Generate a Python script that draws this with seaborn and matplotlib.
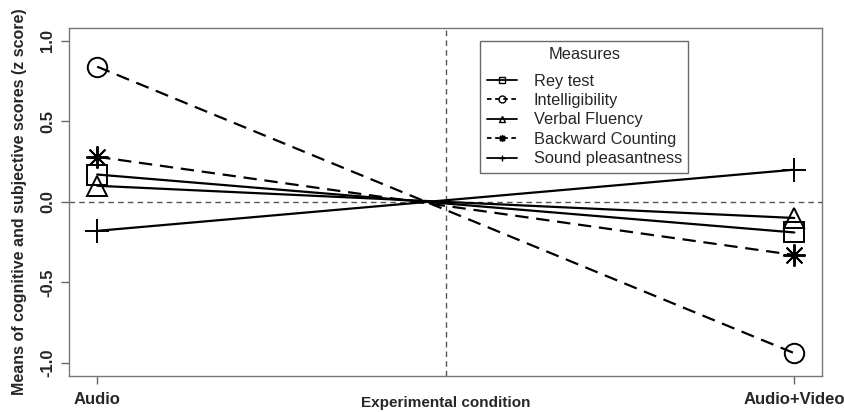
import numpy as np
import pandas as pd
import seaborn as sns
import matplotlib
matplotlib.use('Agg')
import matplotlib.pyplot as plt
from matplotlib.lines import Line2D

conditions = ['Audio', 'Audio+Video']
measures = ['Rey test', 'Intelligibility', 'Verbal Fluency', 'Backward Counting', 'Sound pleasantness']
rey = [0.17, -0.19]
intel = [0.84, -0.94]
verbal = [0.10, -0.10]
backward = [0.28, -0.33]
sound = [-0.18, 0.20]

df = pd.DataFrame({
    'x': [0, 1] * 5,
    'score': rey + intel + verbal + backward + sound,
    'measure': np.repeat(measures, 2),
})

sns.set_style('white')
plt.rcParams['font.family'] = ['Liberation Sans', 'DejaVu Sans']

markers = {'Rey test': 's', 'Intelligibility': 'o', 'Verbal Fluency': '^',
           'Backward Counting': (8, 2, 0), 'Sound pleasantness': '+'}
msize = {'Rey test': 14, 'Intelligibility': 14, 'Verbal Fluency': 15,
         'Backward Counting': 16, 'Sound pleasantness': 17}
dashed = {'Rey test': False, 'Intelligibility': True, 'Verbal Fluency': False,
          'Backward Counting': True, 'Sound pleasantness': False}

fig, ax = plt.subplots(figsize=(8.45, 4.12), dpi=100)
for m in measures:
    sub = df[df['measure'] == m]
    sns.lineplot(data=sub, x='x', y='score', color='black', linewidth=1.6,
                 linestyle=(0, (6, 3.5)) if dashed[m] else '-',
                 marker=markers[m], markersize=msize[m], markeredgecolor='black',
                 markeredgewidth=1.4, markerfacecolor='none', ax=ax)

ax.axhline(0, color='#555555', ls=(0, (4, 3)), lw=1, zorder=0)
ax.axvline(0.5, color='#555555', ls=(0, (4, 3)), lw=1, zorder=0)

ax.set_xlim(-0.04, 1.04)
ax.set_ylim(-1.08, 1.08)
ax.set_xticks([0, 1])
ax.set_xticklabels(conditions, fontsize=12, fontweight='bold')
ax.set_yticks([-1.0, -0.5, 0.0, 0.5, 1.0])
ax.set_yticklabels(['-1.0', '-0.5', '0.0', '0.5', '1.0'], fontsize=12,
                   fontweight='bold', rotation=90, va='center')
ax.tick_params(bottom=True, left=True, direction='out', length=6, width=1,
               color='#666666')
ax.tick_params(axis='x', pad=6)
ax.tick_params(axis='y', pad=4)
ax.set_xlabel('Experimental condition', fontsize=11, fontweight='bold')
ax.set_ylabel('Means of cognitive and subjective scores (z score)', fontsize=11.5,
              fontweight='bold')
ax.xaxis.label.set_va('center')
ax.xaxis.set_label_coords(0.5, -0.078)
ax.yaxis.label.set_va('center')
ax.yaxis.set_label_coords(-0.066, 0.5)
for s in ax.spines.values():
    s.set_color('#777777')
    s.set_linewidth(1)

handles = []
for m in measures:
    handles.append(Line2D([], [], color='black', lw=1.3,
                          ls=(0, (2.5, 2)) if dashed[m] else '-',
                          marker=markers[m], markersize=5, markerfacecolor='none',
                          markeredgecolor='black'))
leg = ax.legend(handles, measures, title='Measures', loc='upper left',
                bbox_to_anchor=(0.546, 0.963), borderaxespad=0,
                fontsize=11.8, title_fontsize=11.8,
                frameon=True, fancybox=False, edgecolor='#444444',
                handlelength=1.85, labelspacing=0.27, borderpad=0.4,
                handletextpad=1.0)
leg.get_frame().set_linewidth(1)
leg._legend_box.sep = 8

plt.subplots_adjust(left=0.082, right=0.973, top=0.932, bottom=0.088)
plt.savefig('out.png', dpi=100)
